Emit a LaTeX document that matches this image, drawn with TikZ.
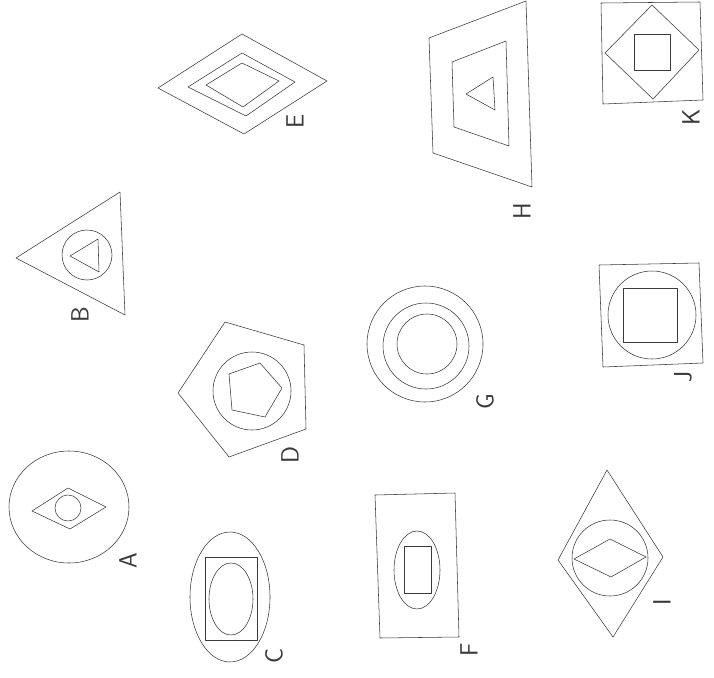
\documentclass[tikz,border=0pt]{standalone}
\usepackage{fontspec}
\usepackage{tikz}
\definecolor{ink}{HTML}{3A3A3A}
\tikzset{
  fig/.style={draw=ink, line width=0.55pt, line join=round},
  lbl/.style={rotate=90, font=\fontsize{25}{25}\selectfont\sffamily, text=ink, inner sep=0pt},
}
\begin{document}
\begin{tikzpicture}[x=1pt, y=-1pt]
\useasboundingbox[fill=white] (0,0) rectangle (714,677);

% A
\draw[fig] (69,507) ellipse [x radius=60, y radius=56];
\draw[fig] (32,511) -- (68,488) -- (106,507) -- (70,529) -- cycle;
\draw[fig] (68,508) circle [radius=13];
\node[lbl] (labA) at (128,561) {A};

% B
\draw[fig] (16,258) -- (120,192) -- (125,315) -- cycle;
\draw[fig] (87,255) circle [radius=25];
\draw[fig] (70,256) -- (98,239) -- (99,272) -- cycle;
\node[lbl] (labB) at (80,315) {B};

% C
\draw[fig] (230,597) ellipse [x radius=40, y radius=65];
\draw[fig] (205,557) rectangle (257,640);
\draw[fig] (231,599) ellipse [x radius=22, y radius=36];
\node[lbl] (labC) at (274,656) {C};

% D
\draw[fig] (225,322) -- (304,345) -- (306,429) -- (229,457) -- (178,393) -- cycle;
\draw[fig] (252,391) circle [radius=39];
\draw[fig] (229,374) -- (260,363) -- (282,388) -- (265,417) -- (232,410) -- cycle;
\node[lbl] (labD) at (290,455) {D};

% E
\draw[fig] (158,88) -- (242,34) -- (327,81) -- (244,134) -- cycle;
\draw[fig] (188,87) -- (242,53) -- (295,82) -- (246,116) -- cycle;
\draw[fig] (206,85) -- (242,63) -- (279,81) -- (243,107) -- cycle;
\node[lbl] (labE) at (295,121) {E};

% F
\draw[fig] (375,495) -- (455,493) -- (459,637) -- (380,638) -- cycle;
\draw[fig] (417,570) ellipse [x radius=23, y radius=39];
\draw[fig] (404,546) rectangle (431,593);
\node[lbl] (labF) at (469,650) {F};

% G
\draw[fig] (425,344) circle [radius=58];
\draw[fig] (426,346) circle [radius=43];
\draw[fig] (427,344) circle [radius=30];
\node[lbl] (labG) at (485,402) {G};

% H
\draw[fig] (429,38) -- (526,1) -- (532,187) -- (433,153) -- cycle;
\draw[fig] (452,62) -- (506,41) -- (509,146) -- (454,127) -- cycle;
\draw[fig] (466,94) -- (493,77) -- (495,110) -- cycle;
\node[lbl] (labH) at (522,211) {H};

% I
\draw[fig] (607,470) -- (663,557) -- (613,637) -- (558,560) -- cycle;
\draw[fig] (610,558) circle [radius=38];
\draw[fig] (610,539) -- (646,557) -- (611,577) -- (574,559) -- cycle;
\node[lbl] (labI) at (662,602) {I};

% J
\draw[fig] (599,265) -- (699,263) -- (703,363) -- (603,367) -- cycle;
\draw[fig] (652,315) circle [radius=44];
\draw[fig] (623,288) rectangle (677,342);
\node[lbl] (labJ) at (683,377) {J};

% K
\draw[fig] (601,3) -- (700,2) -- (703,100) -- (603,104) -- cycle;
\draw[fig] (605,53) -- (652,5) -- (699,50) -- (653,99) -- cycle;
\draw[fig] (634,34) rectangle (670,70);
\node[lbl] (labK) at (691,117) {K};
\end{tikzpicture}
\end{document}
